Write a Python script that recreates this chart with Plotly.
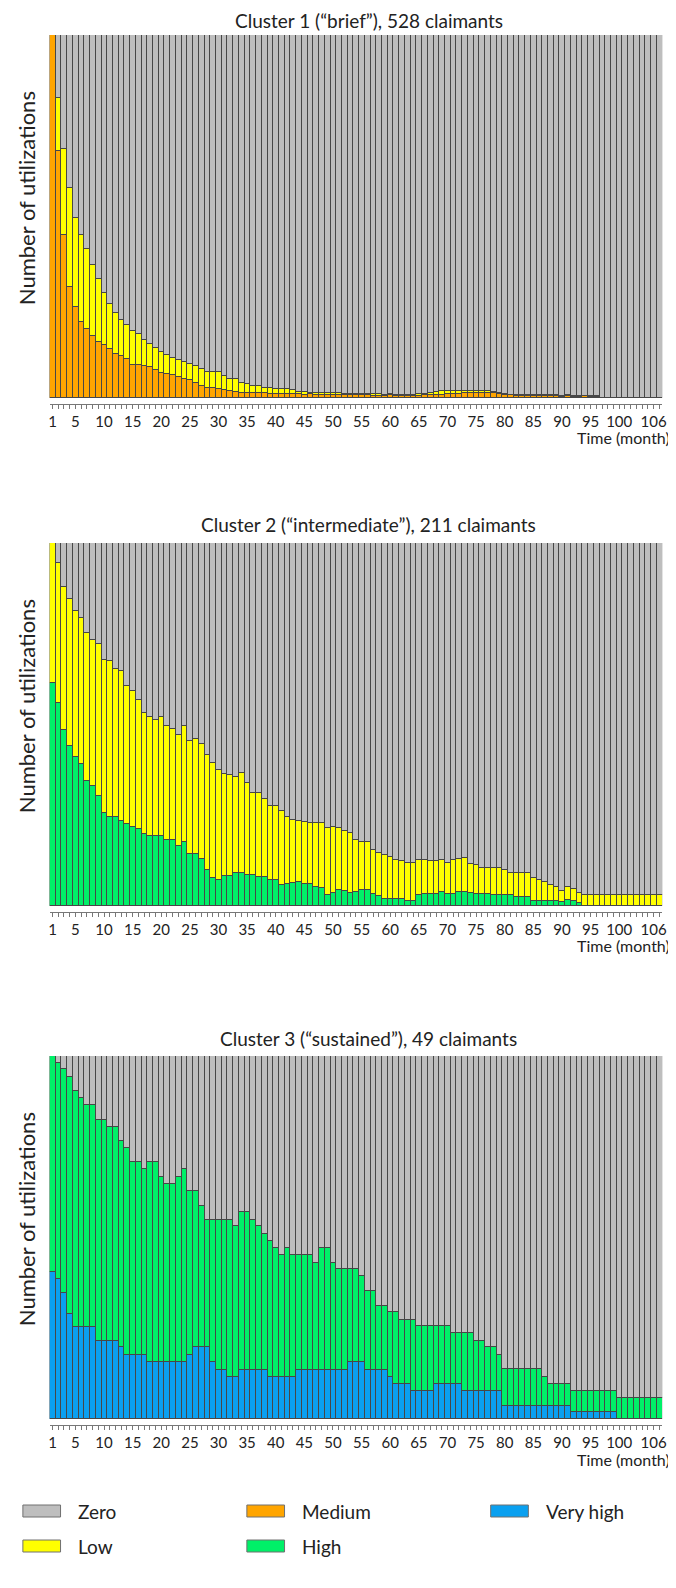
"""Sequence distribution plots: monthly utilization states for three claimant clusters."""

import plotly.graph_objects as go

W, H = 676, 1588
FONT = "Lato"

MONTHS = list(range(1, 108))
TICK_LABELS = {1: "1", 5: "5", 10: "10", 15: "15", 20: "20", 25: "25", 30: "30", 35: "35",
               40: "40", 45: "45", 50: "50", 55: "55", 60: "60", 65: "65", 70: "70", 75: "75",
               80: "80", 85: "85", 90: "90", 95: "95", 100: "100", 106: "106"}

COLORS = {
    "Zero": "#bebebe",
    "Low": "#ffff00",
    "Medium": "#ffa500",
    "High": "#00f068",
    "Very high": "#0aa0f0",
}

TITLES = [
    "Cluster 1 (\u201cbrief\u201d), 528 claimants",
    "Cluster 2 (\u201cintermediate\u201d), 211 claimants",
    "Cluster 3 (\u201csustained\u201d), 49 claimants",
]

# Cluster 1: share in "Medium", and share with any utilization (Medium + Low)
c1_medium = [
    1.00, 0.68, 0.45, 0.305, 0.25, 0.21, 0.19, 0.17, 0.155, 0.145,
    0.135, 0.12, 0.115, 0.108, 0.092, 0.09, 0.088, 0.085, 0.076, 0.07,
    0.066, 0.064, 0.058, 0.053, 0.05, 0.04, 0.033, 0.028, 0.027, 0.024,
    0.021, 0.018, 0.017, 0.015, 0.015, 0.014, 0.013, 0.013, 0.012, 0.012,
    0.011, 0.011, 0.010, 0.010, 0.009, 0.010, 0.009, 0.009, 0.008, 0.009,
    0.008, 0.008, 0.007, 0.007, 0.008, 0.007, 0.006, 0.006, 0.006, 0.007,
    0.006, 0.006, 0.005, 0.006, 0.006, 0.007, 0.008, 0.008, 0.009, 0.010,
    0.011, 0.012, 0.013, 0.014, 0.014, 0.015, 0.015, 0.014, 0.011, 0.009,
    0.007, 0.006, 0.005, 0.006, 0.005, 0.005, 0.006, 0.005, 0.005, 0.004,
    0.005, 0.004, 0.004, 0.005, 0.004, 0.004, 0.0, 0.0, 0.0, 0.0,
    0.0, 0.0, 0.0, 0.0, 0.0, 0.0, 0.0,
]
c1_any = [
    1.00, 0.826, 0.685, 0.578, 0.497, 0.448, 0.411, 0.366, 0.328, 0.29,
    0.26, 0.235, 0.215, 0.20, 0.185, 0.175, 0.16, 0.148, 0.138, 0.128,
    0.118, 0.11, 0.106, 0.10, 0.095, 0.088, 0.08, 0.073, 0.073, 0.072,
    0.061, 0.053, 0.053, 0.04, 0.039, 0.033, 0.033, 0.028, 0.028, 0.025,
    0.025, 0.025, 0.021, 0.016, 0.016, 0.015, 0.015, 0.014, 0.013, 0.014,
    0.013, 0.012, 0.012, 0.011, 0.012, 0.011, 0.010, 0.010, 0.009, 0.010,
    0.009, 0.009, 0.008, 0.009, 0.010, 0.012, 0.014, 0.016, 0.018, 0.019,
    0.019, 0.020, 0.020, 0.019, 0.018, 0.019, 0.018, 0.016, 0.013, 0.011,
    0.009, 0.008, 0.007, 0.008, 0.007, 0.007, 0.008, 0.007, 0.007, 0.006,
    0.007, 0.006, 0.006, 0.006, 0.005, 0.005, 0.0, 0.0, 0.0, 0.0,
    0.0, 0.0, 0.0, 0.0, 0.0, 0.0, 0.0,
]

# Cluster 2: share in "High", and share with any utilization (High + Low)
c2_high = [
    0.615, 0.560, 0.485, 0.440, 0.410, 0.390, 0.345, 0.330, 0.303, 0.257,
    0.244, 0.244, 0.233, 0.225, 0.219, 0.213, 0.199, 0.193, 0.193, 0.193,
    0.183, 0.183, 0.164, 0.176, 0.142, 0.142, 0.130, 0.100, 0.077, 0.072,
    0.083, 0.083, 0.092, 0.090, 0.085, 0.085, 0.080, 0.080, 0.072, 0.072,
    0.058, 0.061, 0.063, 0.065, 0.061, 0.060, 0.053, 0.049, 0.030, 0.035,
    0.045, 0.041, 0.035, 0.038, 0.043, 0.043, 0.034, 0.028, 0.020, 0.020,
    0.020, 0.020, 0.014, 0.014, 0.030, 0.034, 0.034, 0.034, 0.038, 0.032,
    0.032, 0.038, 0.038, 0.036, 0.032, 0.034, 0.034, 0.030, 0.030, 0.030,
    0.030, 0.026, 0.024, 0.024, 0.014, 0.014, 0.014, 0.014, 0.014, 0.011,
    0.017, 0.013, 0.007, 0.0, 0.0, 0.0, 0.0, 0.0, 0.0, 0.0,
    0.0, 0.0, 0.0, 0.0, 0.0, 0.0, 0.0,
]
c2_any = [
    1.00, 0.946, 0.878, 0.845, 0.813, 0.793, 0.751, 0.732, 0.722, 0.679,
    0.674, 0.653, 0.647, 0.606, 0.592, 0.567, 0.533, 0.520, 0.513, 0.520,
    0.496, 0.488, 0.471, 0.497, 0.454, 0.461, 0.445, 0.416, 0.394, 0.376,
    0.363, 0.360, 0.356, 0.367, 0.339, 0.310, 0.310, 0.295, 0.276, 0.276,
    0.261, 0.244, 0.238, 0.234, 0.232, 0.230, 0.230, 0.230, 0.216, 0.217,
    0.216, 0.208, 0.202, 0.181, 0.175, 0.175, 0.155, 0.147, 0.141, 0.136,
    0.128, 0.123, 0.118, 0.118, 0.128, 0.128, 0.123, 0.123, 0.128, 0.118,
    0.126, 0.130, 0.133, 0.116, 0.113, 0.104, 0.104, 0.104, 0.104, 0.098,
    0.090, 0.090, 0.090, 0.090, 0.077, 0.072, 0.066, 0.058, 0.053, 0.041,
    0.051, 0.046, 0.036, 0.030, 0.030, 0.030, 0.030, 0.030, 0.030, 0.030,
    0.030, 0.030, 0.030, 0.030, 0.030, 0.030, 0.030,
]

# Cluster 3: share in "Very high", and share with any utilization (Very high + High)
c3_very_high = [
    0.405, 0.385, 0.348, 0.290, 0.254, 0.254, 0.254, 0.254, 0.216, 0.216,
    0.216, 0.216, 0.197, 0.176, 0.176, 0.176, 0.176, 0.157, 0.157, 0.157,
    0.157, 0.157, 0.157, 0.157, 0.176, 0.197, 0.197, 0.197, 0.157, 0.136,
    0.136, 0.117, 0.117, 0.136, 0.136, 0.136, 0.136, 0.136, 0.117, 0.117,
    0.117, 0.117, 0.117, 0.136, 0.136, 0.136, 0.136, 0.136, 0.136, 0.136,
    0.136, 0.136, 0.157, 0.157, 0.157, 0.136, 0.136, 0.136, 0.136, 0.117,
    0.097, 0.097, 0.097, 0.078, 0.078, 0.078, 0.078, 0.097, 0.097, 0.097,
    0.097, 0.097, 0.078, 0.078, 0.078, 0.078, 0.078, 0.078, 0.078, 0.037,
    0.037, 0.037, 0.037, 0.037, 0.037, 0.037, 0.037, 0.037, 0.037, 0.037,
    0.037, 0.020, 0.020, 0.020, 0.020, 0.020, 0.020, 0.020, 0.020, 0.0,
    0.0, 0.0, 0.0, 0.0, 0.0, 0.0, 0.0,
]
c3_any = [
    1.00, 0.981, 0.963, 0.943, 0.903, 0.884, 0.864, 0.864, 0.824, 0.824,
    0.805, 0.805, 0.765, 0.746, 0.707, 0.707, 0.688, 0.707, 0.707, 0.667,
    0.648, 0.648, 0.667, 0.688, 0.629, 0.629, 0.588, 0.549, 0.549, 0.549,
    0.549, 0.549, 0.531, 0.569, 0.569, 0.549, 0.531, 0.509, 0.491, 0.471,
    0.452, 0.471, 0.452, 0.452, 0.452, 0.452, 0.431, 0.471, 0.471, 0.431,
    0.412, 0.412, 0.412, 0.412, 0.393, 0.353, 0.353, 0.312, 0.312, 0.295,
    0.295, 0.274, 0.274, 0.274, 0.255, 0.255, 0.255, 0.255, 0.255, 0.255,
    0.236, 0.236, 0.236, 0.236, 0.216, 0.216, 0.197, 0.197, 0.176, 0.138,
    0.138, 0.138, 0.138, 0.138, 0.138, 0.138, 0.116, 0.097, 0.097, 0.097,
    0.097, 0.078, 0.078, 0.078, 0.078, 0.078, 0.078, 0.078, 0.078, 0.057,
    0.057, 0.057, 0.057, 0.057, 0.057, 0.057, 0.057,
]

for arr in (c1_medium, c1_any, c2_high, c2_any, c3_very_high, c3_any):
    assert len(arr) == len(MONTHS), len(arr)


def diff(a, b):
    return [round(x - y, 4) for x, y in zip(a, b)]


ALL = [1.0] * len(MONTHS)

# bottom-to-top stacks per panel
PANELS = [
    [("Medium", c1_medium), ("Low", diff(c1_any, c1_medium)), ("Zero", diff(ALL, c1_any))],
    [("High", c2_high), ("Low", diff(c2_any, c2_high)), ("Zero", diff(ALL, c2_any))],
    [("Very high", c3_very_high), ("High", diff(c3_any, c3_very_high)), ("Zero", diff(ALL, c3_any))],
]

# layout in pixels
PANEL_TOPS = [27, 535, 1048]
PANEL_H = 363
AXIS_GAP = 6
X0, X1 = 41, 659
TITLE_Y = [13, 517, 1030]


def px(x):
    return x / W


def py(y):
    return 1 - y / H


fig = go.Figure()
annotations = []

for i, (stack, top) in enumerate(zip(PANELS, PANEL_TOPS)):
    n = "" if i == 0 else str(i + 1)
    for name, vals in stack:
        fig.add_trace(go.Bar(
            x=MONTHS, y=vals, name=name, showlegend=False,
            marker=dict(color=COLORS[name], line=dict(color="#474747", width=1)),
            xaxis="x" + n, yaxis="y" + n,
        ))
    bottom = top + PANEL_H
    fig.layout["xaxis" + n] = dict(
        domain=[px(X0), px(X1)], range=[0.5, 107.5], anchor="y" + n,
        tickvals=MONTHS, ticktext=[TICK_LABELS.get(m, "") for m in MONTHS],
        ticks="outside", ticklen=4, tickwidth=1, tickcolor="#777",
        showline=True, linecolor="#777", linewidth=1, showgrid=False, zeroline=False,
        tickfont=dict(family=FONT, size=15, color="#222"), fixedrange=True,
    )
    fig.layout["yaxis" + n] = dict(
        domain=[py(bottom + AXIS_GAP), py(top)], range=[-AXIS_GAP / PANEL_H, 1],
        anchor="x" + n, visible=False, fixedrange=True,
    )
    annotations.append(dict(
        text=TITLES[i], x=px(363), y=py(TITLE_Y[i]), xref="paper", yref="paper",
        xanchor="center", yanchor="middle", showarrow=False,
        font=dict(family=FONT, size=19, color="#222"),
    ))
    annotations.append(dict(
        text="Number of utilizations", x=px(18), y=py(top + PANEL_H * 0.45),
        xref="paper", yref="paper", xanchor="center", yanchor="middle",
        textangle=-90, showarrow=False, font=dict(family=FONT, size=22, color="#222"),
    ))
    annotations.append(dict(
        text="Time (month)", x=px(669), y=py(bottom + 40), xref="paper", yref="paper",
        xanchor="right", yanchor="middle", showarrow=False,
        font=dict(family=FONT, size=16, color="#222"),
    ))

# legend drawn as boxes + labels (two rows, three columns)
LEGEND_ITEMS = [("Zero", 14, 1503), ("Low", 14, 1538), ("Medium", 240, 1503),
                ("High", 240, 1538), ("Very high", 486, 1503)]
shapes = []
for name, lx, ly in LEGEND_ITEMS:
    shapes.append(dict(
        type="rect", xref="paper", yref="paper",
        x0=px(lx), x1=px(lx + 38), y0=py(ly + 6), y1=py(ly - 6),
        fillcolor=COLORS[name], line=dict(color="#707070", width=1),
    ))
    annotations.append(dict(
        text=name, x=px(lx + 54), y=py(ly), xref="paper", yref="paper",
        xanchor="left", yanchor="middle", showarrow=False,
        font=dict(family=FONT, size=19, color="#222"),
    ))

fig.update_layout(
    width=W, height=H, barmode="stack", bargap=0,
    margin=dict(l=0, r=0, t=0, b=0),
    paper_bgcolor="white", plot_bgcolor="white",
    annotations=annotations, shapes=shapes, showlegend=False,
)

fig.write_html("out.html")
